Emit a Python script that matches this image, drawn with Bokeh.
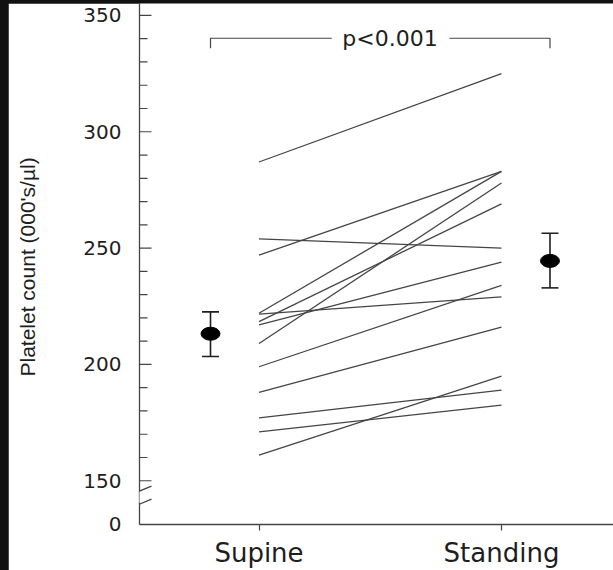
from bokeh.plotting import figure
from bokeh.models import (FixedTicker, Range1d, Whisker, TeeHead, Arrow,
                          ColumnDataSource)
from bokeh.layouts import column
from bokeh.embed import file_html
from bokeh.resources import INLINE
from bokeh.core.properties import value

# ---------------- data ----------------
groups = ["Supine", "Standing"]
group_pos = [0, 1]
supine = [287, 254, 247, 222, 221.6, 218.4, 217, 209, 199, 188, 177, 171, 161]
standing = [325, 250, 283, 283, 229, 269, 244, 278, 234, 216, 189, 182.5, 195]

mean_pos = [-0.2, 1.2]
means = [213.2, 244.5]
err_low = [203.4, 232.9]
err_high = [222.6, 256.4]

y_major = [150, 200, 250, 300, 350]
y_minor = [160, 170, 180, 190, 210, 220, 230, 240,
           260, 270, 280, 290, 310, 320, 330, 340]
y_zero_pos = 131.5          # where the broken axis shows "0"
y_labels = ["0", "150", "200", "250", "300", "350"]

p_text = "p<0.001"
bracket_y = 340.2
bracket_drop = 335.9
bracket_gap = [0.30, 0.785]
p_text_x = 0.54

# break of the y axis (axis units)
break_gap = [140.6, 145.4]

LINE = "#454545"
INK = "#1e1e1e"

X0, X1 = -0.4928, 1.4619
p = figure(width=605, height=567,
           x_range=Range1d(X0, X1), y_range=Range1d(131.2, 355.13),
           output_backend="svg", toolbar_location=None,
           min_border_left=131, min_border_right=0, min_border_top=0,
           min_border_bottom=43, margin=(3, 0, 0, 8))
p.outline_line_color = None
p.xgrid.visible = False
p.ygrid.visible = False
p.background_fill_color = "white"
p.border_fill_color = "white"

# ---- y axis ----
ya = p.yaxis[0]
ya.ticker = FixedTicker(ticks=[y_zero_pos] + y_major, minor_ticks=[])
ya.major_label_overrides = {t: l for t, l in zip([y_zero_pos] + y_major, y_labels)}
ya.major_tick_in = 0
ya.major_tick_out = 0
ya.minor_tick_line_color = None
ya.major_tick_line_color = None
ya.axis_line_color = LINE
ya.axis_line_width = 1.3
ya.major_label_standoff = 18
ya.major_label_text_font = "DejaVu Sans"
ya.major_label_text_font_size = "20px"
ya.major_label_text_color = INK
ya.axis_label = "Platelet count  (000's/µl)"
ya.axis_label_text_font = "Liberation Sans"
ya.axis_label_text_font_size = "21px"
ya.axis_label_text_font_style = "normal"
ya.axis_label_text_color = INK
ya.axis_label_standoff = 41

# inward ticks of the y axis (major 12 px, minor 8 px)
major_len = 12 / 242.5
minor_len = 8 / 242.5
tick_y = y_major + y_minor
tick_len = [major_len] * len(y_major) + [minor_len] * len(y_minor)
p.segment(x0=[X0] * len(tick_y), y0=tick_y,
          x1=[X0 + l for l in tick_len], y1=tick_y,
          line_color=LINE, line_width=1.2)

# ---- x axis ----
xa = p.xaxis[0]
xa.ticker = FixedTicker(ticks=group_pos, minor_ticks=[])
xa.major_label_overrides = {g: n for g, n in zip(group_pos, groups)}
xa.major_tick_in = 0
xa.major_tick_out = 6
xa.minor_tick_line_color = None
xa.axis_line_color = LINE
xa.major_tick_line_color = LINE
xa.axis_line_width = 1.3
xa.major_tick_line_width = 1.2
xa.major_label_standoff = 7
xa.major_label_text_font = "DejaVu Sans"
xa.major_label_text_font_size = "26px"
xa.major_label_text_color = INK

# ---- paired lines ----
src = ColumnDataSource(dict(x0=[group_pos[0]] * len(supine), y0=supine,
                            x1=[group_pos[1]] * len(standing), y1=standing))
p.segment(x0="x0", y0="y0", x1="x1", y1="y1", source=src,
          line_color=LINE, line_width=1.3)

# ---- means with error bars ----
msrc = ColumnDataSource(dict(x=mean_pos, m=means, lo=err_low, hi=err_high))
p.add_layout(Whisker(source=msrc, base="x", upper="hi", lower="lo",
                     line_color=INK, line_width=1.6,
                     upper_head=TeeHead(size=17, line_color=INK, line_width=1.6),
                     lower_head=TeeHead(size=17, line_color=INK, line_width=1.6)))
p.ellipse(x="x", y="m", width=19, height=13, width_units="screen",
          height_units="screen", source=msrc, fill_color="black",
          line_color="black")

# ---- significance bracket ----
p.multi_line(xs=[[mean_pos[0], mean_pos[0], bracket_gap[0]],
                 [bracket_gap[1], mean_pos[1], mean_pos[1]]],
             ys=[[bracket_drop, bracket_y, bracket_y],
                 [bracket_y, bracket_y, bracket_drop]],
             line_color=LINE, line_width=1.2)
p.text(x=[p_text_x], y=[bracket_y], text=[p_text], text_align="center",
       text_baseline="middle", text_font=value("DejaVu Sans"),
       text_font_size="22px", text_color=INK)

# ---- axis break ----
p.add_layout(Arrow(x_start=X0, y_start=break_gap[0], x_end=X0,
                   y_end=break_gap[1], end=None, line_color="white",
                   line_width=5))
for lo, hi in [(137.8, 142.1), (143.4, 147.7)]:
    p.add_layout(Arrow(x_start=X0 - 0.0495, y_start=lo,
                       x_end=X0 + 0.0495, y_end=hi, end=None,
                       line_color=LINE, line_width=1.3))

layout = column(p, width=613, height=570,
                styles={"background-color": "#111111"})

open("out.html", "w").write(file_html(layout, INLINE))
